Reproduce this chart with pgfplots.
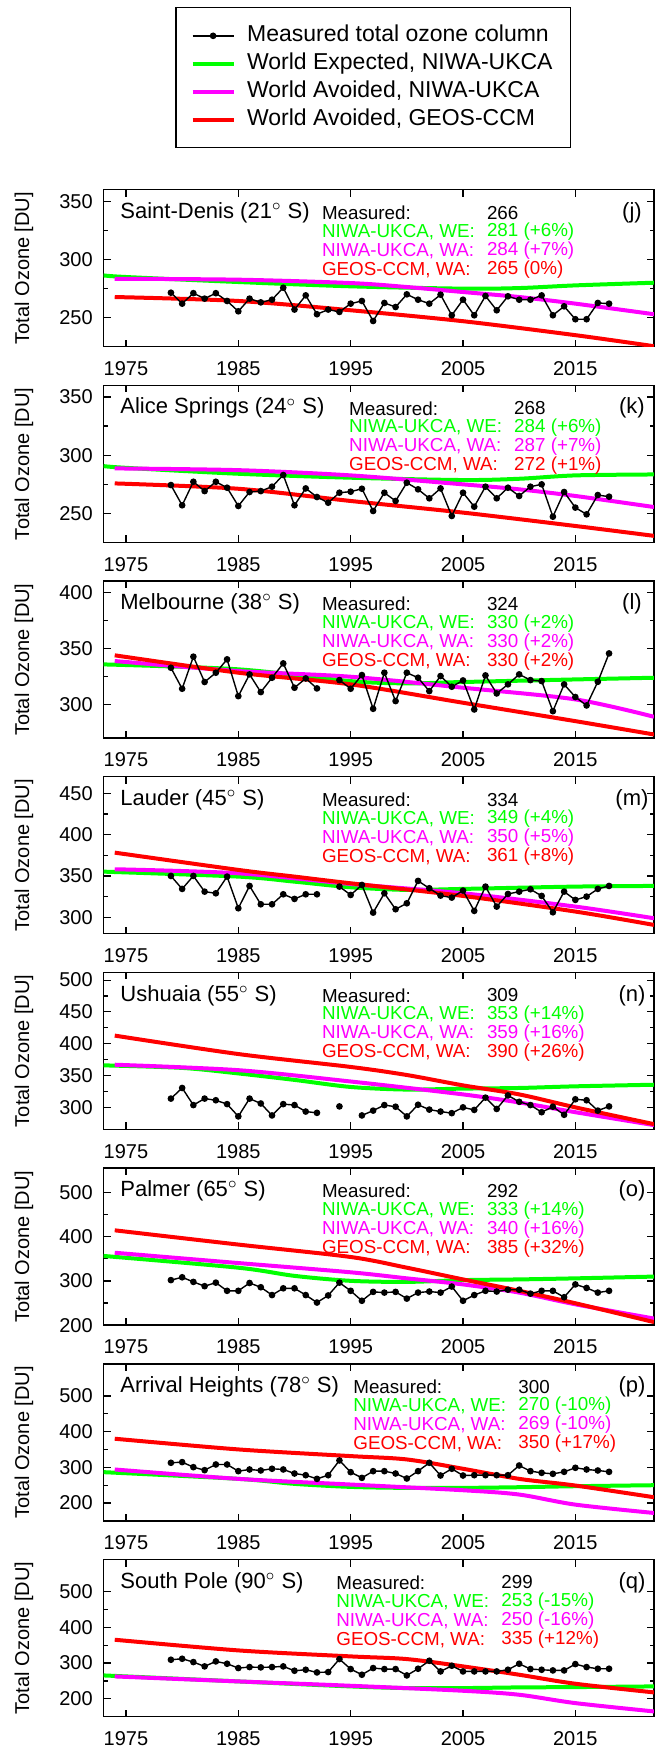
\documentclass[border=0pt]{standalone}
\usepackage{fontspec}
\setmainfont{Liberation Sans}
\usepackage{pgfplots}
\pgfplotsset{compat=1.18}

\definecolor{cwe}{RGB}{0,255,0}
\definecolor{cwa}{RGB}{255,0,255}
\definecolor{cgeos}{RGB}{255,0,0}

\newcommand{\statfont}{\fontsize{9.4}{11}\selectfont}
\newcommand{\namefont}{\fontsize{11}{13}\selectfont}

\pgfplotsset{
  panel/.style={
    scale only axis, width=275.25pt, height=78.5pt,
    anchor=south west,
    xmin=1973, xmax=2022,
    xtick={1975,1985,...,2015},
    minor x tick num=0, minor y tick num=1,
    tick align=inside,
    axis line style={line width=0.7pt},
    major tick length=3.5pt, minor tick length=2pt,
    every tick/.style={black, line width=0.6pt},
    tick label style={font=\fontsize{10}{12}\selectfont},
    xticklabel style={yshift=-3.8pt},
    yticklabel style={xshift=-1.9pt},
    /pgf/number format/assume math mode=true,
    /pgf/number format/1000 sep={},
    ylabel={Total Ozone [DU]},
    ylabel style={at={(axis description cs:-0.1444,0.5)}, anchor=center,
      font=\fontsize{10}{12}\selectfont},
  },
  meas/.style={black, line width=0.7pt, mark=*, mark size=1.3pt,
    mark options={solid}, unbounded coords=jump, forget plot},
  model/.style={line width=2pt, smooth, forget plot},
}

% #1 station, #2 x of the stats column, #3 measured, #4 WE, #5 WA, #6 GEOS, #7 panel letter
\newcommand{\panelinfo}[7]{%
  \node[anchor=west,inner sep=0pt,font=\namefont] at (rel axis cs:0.03,0.854) {#1};
  \node[anchor=west,inner sep=0pt,font=\statfont] at (rel axis cs:#2,0.854) {Measured:};
  \node[anchor=west,inner sep=0pt,font=\statfont,xshift=82.5pt] at (rel axis cs:#2,0.854) {#3};
  \node[anchor=west,inner sep=0pt,font=\statfont,text=cwe] at (rel axis cs:#2,0.732) {NIWA-UKCA, WE:};
  \node[anchor=west,inner sep=0pt,font=\statfont,text=cwe,xshift=82.5pt] at (rel axis cs:#2,0.732) {#4};
  \node[anchor=west,inner sep=0pt,font=\statfont,text=cwa] at (rel axis cs:#2,0.611) {NIWA-UKCA, WA:};
  \node[anchor=west,inner sep=0pt,font=\statfont,text=cwa,xshift=82.5pt] at (rel axis cs:#2,0.611) {#5};
  \node[anchor=west,inner sep=0pt,font=\statfont,text=cgeos] at (rel axis cs:#2,0.490) {GEOS-CCM, WA:};
  \node[anchor=west,inner sep=0pt,font=\statfont,text=cgeos,xshift=82.5pt] at (rel axis cs:#2,0.490) {#6};
  \node[inner sep=0pt,font=\namefont] at (rel axis cs:0.96,0.854) {(#7)};
}

\begin{document}
\begin{tikzpicture}[x=1pt,y=1pt]
\path[use as bounding box] (0,0) rectangle (327.5,874);

% ---------- (j) Saint-Denis ----------
\begin{axis}[panel, at={(51.75pt,700.65pt)},
  ymin=225, ymax=360, ytick={250,300,350},
  legend style={at={(axis description cs:0.1306,2.162)}, anchor=north west,
    draw=black, line width=0.6pt, font=\fontsize{11.5}{13.9}\selectfont,
    inner xsep=7.3pt, inner ysep=7pt, column sep=4.25pt,
    nodes={text height=8.5pt, text depth=2.5pt, inner sep=1.5pt},
    cells={anchor=west}},
  legend image code/.code={\draw[mark repeat=2,mark phase=2,#1]
    plot coordinates {(0pt,0pt) (10.25pt,0pt) (20.5pt,0pt)};},
]
\addlegendimage{black, line width=0.7pt, mark=*, mark size=1.3pt}
\addlegendentry{Measured total ozone column}
\addlegendimage{cwe, line width=2pt}
\addlegendentry{World Expected, NIWA-UKCA}
\addlegendimage{cwa, line width=2pt}
\addlegendentry{World Avoided, NIWA-UKCA}
\addlegendimage{cgeos, line width=2pt}
\addlegendentry{World Avoided, GEOS-CCM}
\addplot[model, cwe] coordinates {(1973,286.3)(1975,284.9)(1985,280.6)(1995,276.9)(2005,274.9)(2010,275.4)(2015,277.7)(2022,280)};
\addplot[model, cwa] coordinates {(1974,283.4)(1985,282.6)(1995,279.7)(2000,276.3)(2005,272)(2010,267.7)(2015,262)(2022,252.9)};
\addplot[model, cgeos] coordinates {(1974,267.7)(1985,264.3)(1995,256.3)(2005,246.9)(2015,234.9)(2022,225.4)};
\addplot[meas] coordinates {(1979,271.4)(1980,262)(1981,271)(1982,266.3)(1983,271)(1984,264.3)(1985,255.4)(1986,266.3)(1987,263.1)(1988,265.4)(1989,275.7)(1990,256.9)(1991,269.1)(1992,252.9)(1993,256.9)(1994,254.9)(1995,262)(1996,264.3)(1997,247.1)(1998,262.6)(1999,259.1)(2000,270)(2001,265.4)(2002,262)(2003,269.7)(2004,252)(2005,265.4)(2006,252)(2007,268.6)(2008,256.3)(2009,268.3)(2010,265.4)(2011,265.4)(2012,269.1)(2013,252)(2014,259.7)(2015,248.6)(2016,248.6)(2017,262.6)(2018,262)};
\panelinfo{Saint-Denis (21$^{\circ}$ S)}{0.3962}{266}{281 (+6\%)}{284 (+7\%)}{265 (0\%)}{j}
\end{axis}

% ---------- (k) Alice Springs ----------
\begin{axis}[panel, at={(51.75pt,602.8pt)},
  ymin=225, ymax=360, ytick={250,300,350}]
\addplot[model, cwe] coordinates {(1973,290.6)(1975,289.1)(1985,284)(1995,280.6)(2005,278.6)(2010,279.7)(2015,282.6)(2022,283.4)};
\addplot[model, cwa] coordinates {(1974,288.6)(1985,287.1)(1995,282.6)(2005,274.9)(2010,270.6)(2015,264.9)(2022,255.4)};
\addplot[model, cgeos] coordinates {(1974,275.7)(1985,271.1)(1995,260.6)(2005,250.6)(2015,239.1)(2022,230.6)};
\addplot[meas] coordinates {(1979,274.3)(1980,256.9)(1981,277.1)(1982,269.1)(1983,277.1)(1984,272)(1985,256.3)(1986,268.3)(1987,269.1)(1988,272.9)(1989,282.9)(1990,256.9)(1991,271.4)(1992,264)(1993,259.1)(1994,267.7)(1995,268.6)(1996,271.1)(1997,252)(1998,267.7)(1999,260.6)(2000,276.3)(2001,270.6)(2002,262.9)(2003,271.4)(2004,247.7)(2005,267.7)(2006,255.7)(2007,272.9)(2008,262.9)(2009,272)(2010,264.9)(2011,272.9)(2012,274.9)(2013,247.1)(2014,268.3)(2015,254.9)(2016,249.1)(2017,265.7)(2018,264.3)};
\panelinfo{Alice Springs (24$^{\circ}$ S)}{0.4456}{268}{284 (+6\%)}{287 (+7\%)}{272 (+1\%)}{k}
\end{axis}

% ---------- (l) Melbourne ----------
\begin{axis}[panel, at={(51.75pt,504.95pt)},
  ymin=270, ymax=410, ytick={300,350,400}]
\addplot[model, cwe] coordinates {(1973,335.7)(1985,331.3)(1995,320.8)(2000,318.8)(2005,320)(2015,322.3)(2022,323.8)};
\addplot[model, cwa] coordinates {(1974,338.7)(1985,329.8)(1995,324.7)(2005,314.9)(2015,304.5)(2022,289)};
\addplot[model, cgeos] coordinates {(1974,343.8)(1985,328.3)(1995,317.9)(2005,301.5)(2015,285.1)(2022,273.2)};
\addplot[meas] coordinates {(1979,332.7)(1980,314)(1981,342.6)(1982,320)(1983,328.3)(1984,340.2)(1985,307.4)(1986,326.8)(1987,311)(1988,323.8)(1989,336.6)(1990,314.9)(1991,323.2)(1992,314.3)(1993,nan)(1994,321.7)(1995,314)(1996,326.2)(1997,296.1)(1998,328.3)(1999,303)(2000,328.3)(2001,323.8)(2002,311.9)(2003,325.3)(2004,315.8)(2005,321.4)(2006,295.5)(2007,325.9)(2008,309.8)(2009,317.9)(2010,326.8)(2011,321.7)(2012,320.8)(2013,294)(2014,317.9)(2015,306.6)(2016,299.1)(2017,320.2)(2018,345.5)};
\panelinfo{Melbourne (38$^{\circ}$ S)}{0.3962}{324}{330 (+2\%)}{330 (+2\%)}{330 (+2\%)}{l}
\end{axis}

% ---------- (m) Lauder ----------
\begin{axis}[panel, at={(51.75pt,407.1pt)},
  ymin=280, ymax=470, ytick={300,350,400,450}]
\addplot[model, cwe] coordinates {(1973,355.2)(1985,349.2)(1990,343.1)(1995,336.3)(2000,333.1)(2005,334.3)(2015,337.1)(2022,337.9)};
\addplot[model, cwa] coordinates {(1974,358.1)(1985,353.2)(1995,340.3)(2005,329)(2015,312.9)(2022,298.8)};
\addplot[model, cgeos] coordinates {(1974,378.2)(1985,357.3)(1990,349.2)(1995,341.1)(2005,325.8)(2015,306.9)(2022,290.7)};
\addplot[meas] coordinates {(1979,350)(1980,334.3)(1981,350)(1982,331)(1983,329)(1984,349.2)(1985,310.9)(1986,337.9)(1987,315.7)(1988,315.7)(1989,327.8)(1990,322.2)(1991,327.8)(1992,327.8)(1993,nan)(1994,337.1)(1995,327)(1996,339.1)(1997,305.6)(1998,329)(1999,309.7)(2000,316.9)(2001,344)(2002,335.1)(2003,326.2)(2004,323.8)(2005,332.3)(2006,307.7)(2007,337.1)(2008,312.9)(2009,328.2)(2010,331)(2011,333.9)(2012,325.8)(2013,306)(2014,331)(2015,321)(2016,325)(2017,334.3)(2018,337.9)};
\panelinfo{Lauder (45$^{\circ}$ S)}{0.3962}{334}{349 (+4\%)}{350 (+5\%)}{361 (+8\%)}{m}
\end{axis}

% ---------- (n) Ushuaia ----------
\begin{axis}[panel, at={(51.75pt,309.25pt)},
  ymin=265, ymax=512, ytick={300,350,400,450,500}]
\addplot[model, cwe] coordinates {(1973,365.9)(1980,361.9)(1985,353.2)(1990,343)(1995,331.9)(2000,327.8)(2005,329.3)(2010,330.3)(2015,332.9)(2022,335.4)};
\addplot[model, cwa] coordinates {(1974,366.9)(1985,358.3)(1995,340.5)(2005,320.2)(2010,307.5)(2015,292.2)(2022,271.9)};
\addplot[model, cgeos] coordinates {(1974,412.7)(1985,383.7)(1995,363.4)(2000,350.7)(2005,334.4)(2010,320.2)(2015,299.8)(2022,273.4)};
\addplot[meas] coordinates {(1979,313.6)(1980,330.3)(1981,303.4)(1982,313.6)(1983,311)(1984,304.9)(1985,285.6)(1986,313.6)(1987,305.9)(1988,287.1)(1989,304.9)(1990,303.4)(1991,293.2)(1992,291.2)(1993,nan)(1994,301.3)(1995,nan)(1996,287.1)(1997,294.7)(1998,303.4)(1999,300.8)(2000,285.6)(2001,303.9)(2002,296.3)(2003,293.2)(2004,290.7)(2005,299.8)(2006,295.8)(2007,315.1)(2008,297.3)(2009,318.6)(2010,308.5)(2011,303.4)(2012,292.2)(2013,300.8)(2014,288.1)(2015,312.5)(2016,311)(2017,294.7)(2018,301.3)};
\panelinfo{Ushuaia (55$^{\circ}$ S)}{0.3962}{309}{353 (+14\%)}{359 (+16\%)}{390 (+26\%)}{n}
\end{axis}

% ---------- (o) Palmer ----------
\begin{axis}[panel, at={(51.75pt,211.4pt)},
  ymin=200, ymax=555, ytick={200,300,400,500}]
\addplot[model, cwe] coordinates {(1973,356.6)(1985,330)(1990,311.5)(1995,300.3)(2000,297.9)(2005,301.9)(2010,303.5)(2015,305.9)(2022,309.9)};
\addplot[model, cwa] coordinates {(1974,363.8)(1985,340.5)(1995,319.6)(2000,305.9)(2005,292.2)(2010,273.7)(2015,247.2)(2022,215)};
\addplot[model, cgeos] coordinates {(1974,414.5)(1985,382.3)(1995,354.2)(2000,330)(2005,303.5)(2010,277.7)(2015,249.6)(2022,207)};
\addplot[meas] coordinates {(1979,301.9)(1980,308.3)(1981,297.9)(1982,288.2)(1983,296.2)(1984,277.7)(1985,277.7)(1986,295.4)(1987,285.8)(1988,268.1)(1989,283.4)(1990,283.4)(1991,268.1)(1992,251.2)(1993,267.3)(1994,296.2)(1995,277.7)(1996,255.2)(1997,275.3)(1998,273.7)(1999,275.3)(2000,260.1)(2001,273.7)(2002,276.1)(2003,273.7)(2004,287.4)(2005,255.2)(2006,268.1)(2007,277.7)(2008,276.1)(2009,280.2)(2010,280.2)(2011,271.3)(2012,277.7)(2013,277.7)(2014,263.3)(2015,292.2)(2016,284.2)(2017,273.7)(2018,277.7)};
\panelinfo{Palmer (65$^{\circ}$ S)}{0.3962}{292}{333 (+14\%)}{340 (+16\%)}{385 (+32\%)}{o}
\end{axis}

% ---------- (p) Arrival Heights ----------
\begin{axis}[panel, at={(51.75pt,113.55pt)},
  ymin=150, ymax=590, ytick={200,300,400,500}]
\addplot[model, cwe] coordinates {(1973,286.6)(1985,267.8)(1990,253.8)(1995,245.3)(2000,242.5)(2005,242.5)(2010,244.4)(2015,247.2)(2022,250)};
\addplot[model, cwa] coordinates {(1974,294.1)(1985,267.8)(1995,251.9)(2005,235.9)(2010,223.8)(2015,195.6)(2022,172.2)};
\addplot[model, cgeos] coordinates {(1974,380.3)(1985,350.3)(1995,331.6)(2000,322.2)(2005,296.1)(2010,267.8)(2015,249.1)(2022,216.3)};
\addplot[meas] coordinates {(1979,312.8)(1980,314.7)(1981,300.6)(1982,292.2)(1983,308.1)(1984,308.1)(1985,289.4)(1986,294.1)(1987,291.3)(1988,296.1)(1989,294.1)(1990,282.8)(1991,278.1)(1992,267.8)(1993,278.1)(1994,319.4)(1995,286.6)(1996,270.6)(1997,289.4)(1998,289.4)(1999,282.8)(2000,268.8)(2001,289.4)(2002,312.8)(2003,277.2)(2004,296.1)(2005,277.2)(2006,278.1)(2007,278.1)(2008,278.1)(2009,278.1)(2010,305.3)(2011,289.4)(2012,284.7)(2013,281.9)(2014,287.5)(2015,298.8)(2016,294.1)(2017,291.3)(2018,287.5)};
\panelinfo{Arrival Heights (78$^{\circ}$ S)}{0.4532}{300}{270 (-10\%)}{269 (-10\%)}{350 (+17\%)}{p}
\end{axis}

% ---------- (q) South Pole ----------
\begin{axis}[panel, at={(51.75pt,15.7pt)},
  ymin=150, ymax=590, ytick={200,300,400,500}]
\addplot[model, cwe] coordinates {(1973,265.4)(1985,248.6)(1995,234.6)(2000,229.9)(2005,229.9)(2010,231.8)(2015,232.7)(2022,234.6)};
\addplot[model, cwa] coordinates {(1974,262.6)(1985,248.6)(1995,236.4)(2005,222.4)(2010,211.2)(2015,187.8)(2022,164.5)};
\addplot[model, cgeos] coordinates {(1974,365.4)(1985,335.5)(1995,318.7)(2000,311.2)(2005,290.7)(2010,267.3)(2015,242.1)(2022,217.8)};
\addplot[meas] coordinates {(1979,309.3)(1980,312.1)(1981,302.8)(1982,290.7)(1983,304.7)(1984,298.1)(1985,286)(1986,288.8)(1987,287.9)(1988,288.8)(1989,290.7)(1990,278.5)(1991,281.3)(1992,273.8)(1993,274.8)(1994,311.2)(1995,283.2)(1996,267.3)(1997,286)(1998,283.2)(1999,283.2)(2000,265.4)(2001,284.1)(2002,306.5)(2003,276.6)(2004,292.5)(2005,276.6)(2006,276.6)(2007,276.6)(2008,276.6)(2009,281.3)(2010,298.1)(2011,283.2)(2012,281.3)(2013,279.4)(2014,279.4)(2015,297.2)(2016,288.8)(2017,284.1)(2018,284.1)};
\panelinfo{South Pole (90$^{\circ}$ S)}{0.4223}{299}{253 (-15\%)}{250 (-16\%)}{335 (+12\%)}{q}
\end{axis}
\end{tikzpicture}
\end{document}
